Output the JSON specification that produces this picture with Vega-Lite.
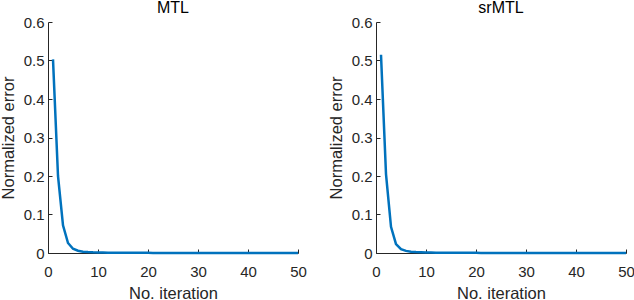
{
  "$schema": "https://vega.github.io/schema/vega-lite/v6.json",
  "padding": {"left": 0, "top": 0, "right": 0, "bottom": 0},
  "spacing": 78,
  "bounds": "flush",
  "config": {
    "view": {"stroke": null},
    "font": "Liberation Sans",
    "title": {"fontSize": 16, "fontWeight": "normal", "color": "#000000", "font": "Liberation Sans", "offset": -1, "baseline": "alphabetic"},
    "axis": {
      "domainColor": "#262626",
      "domainWidth": 1,
      "tickColor": "#262626",
      "tickSize": -4,
      "labelColor": "#262626",
      "labelFontSize": 15,
      "labelFont": "Liberation Sans",
      "labelFlush": false,
      "titleFont": "Liberation Sans",
      "titleFontSize": 16.5,
      "titleFontWeight": "normal",
      "titleColor": "#262626",
      "grid": false
    }
  },
  "datasets": {
    "mtl": [
      {"iter": 1, "err": 0.503}, {"iter": 2, "err": 0.2}, {"iter": 3, "err": 0.072}, {"iter": 4, "err": 0.026},
      {"iter": 5, "err": 0.011}, {"iter": 6, "err": 0.006}, {"iter": 7, "err": 0.0035}, {"iter": 8, "err": 0.0025},
      {"iter": 9, "err": 0.0018}, {"iter": 10, "err": 0.0014}, {"iter": 11, "err": 0.0011}, {"iter": 12, "err": 0.0009},
      {"iter": 13, "err": 0.0008}, {"iter": 14, "err": 0.0007}, {"iter": 15, "err": 0.0006}, {"iter": 16, "err": 0.0005},
      {"iter": 17, "err": 0.00045}, {"iter": 18, "err": 0.0004}, {"iter": 19, "err": 0.00036}, {"iter": 20, "err": 0.00033},
      {"iter": 21, "err": 0.0003}, {"iter": 22, "err": 0.00028}, {"iter": 23, "err": 0.00026}, {"iter": 24, "err": 0.00024},
      {"iter": 25, "err": 0.00022}, {"iter": 26, "err": 0.0002}, {"iter": 27, "err": 0.00019}, {"iter": 28, "err": 0.00018},
      {"iter": 29, "err": 0.00017}, {"iter": 30, "err": 0.00016}, {"iter": 31, "err": 0.00015}, {"iter": 32, "err": 0.00014},
      {"iter": 33, "err": 0.00013}, {"iter": 34, "err": 0.00013}, {"iter": 35, "err": 0.00012}, {"iter": 36, "err": 0.00012},
      {"iter": 37, "err": 0.00011}, {"iter": 38, "err": 0.00011}, {"iter": 39, "err": 0.0001}, {"iter": 40, "err": 0.0001},
      {"iter": 41, "err": 0.0001}, {"iter": 42, "err": 0.00009}, {"iter": 43, "err": 0.00009}, {"iter": 44, "err": 0.00009},
      {"iter": 45, "err": 0.00008}, {"iter": 46, "err": 0.00008}, {"iter": 47, "err": 0.00008}, {"iter": 48, "err": 0.00007},
      {"iter": 49, "err": 0.00007}, {"iter": 50, "err": 0.00007}
    ],
    "srmtl": [
      {"iter": 1, "err": 0.515}, {"iter": 2, "err": 0.205}, {"iter": 3, "err": 0.068}, {"iter": 4, "err": 0.023},
      {"iter": 5, "err": 0.01}, {"iter": 6, "err": 0.0055}, {"iter": 7, "err": 0.0033}, {"iter": 8, "err": 0.0023},
      {"iter": 9, "err": 0.0017}, {"iter": 10, "err": 0.0013}, {"iter": 11, "err": 0.001}, {"iter": 12, "err": 0.00085},
      {"iter": 13, "err": 0.00075}, {"iter": 14, "err": 0.00065}, {"iter": 15, "err": 0.00058}, {"iter": 16, "err": 0.0005},
      {"iter": 17, "err": 0.00045}, {"iter": 18, "err": 0.0004}, {"iter": 19, "err": 0.00036}, {"iter": 20, "err": 0.00033},
      {"iter": 21, "err": 0.0003}, {"iter": 22, "err": 0.00028}, {"iter": 23, "err": 0.00026}, {"iter": 24, "err": 0.00024},
      {"iter": 25, "err": 0.00022}, {"iter": 26, "err": 0.0002}, {"iter": 27, "err": 0.00019}, {"iter": 28, "err": 0.00018},
      {"iter": 29, "err": 0.00017}, {"iter": 30, "err": 0.00016}, {"iter": 31, "err": 0.00015}, {"iter": 32, "err": 0.00014},
      {"iter": 33, "err": 0.00013}, {"iter": 34, "err": 0.00013}, {"iter": 35, "err": 0.00012}, {"iter": 36, "err": 0.00012},
      {"iter": 37, "err": 0.00011}, {"iter": 38, "err": 0.00011}, {"iter": 39, "err": 0.0001}, {"iter": 40, "err": 0.0001},
      {"iter": 41, "err": 0.0001}, {"iter": 42, "err": 0.00009}, {"iter": 43, "err": 0.00009}, {"iter": 44, "err": 0.00009},
      {"iter": 45, "err": 0.00008}, {"iter": 46, "err": 0.00008}, {"iter": 47, "err": 0.00008}, {"iter": 48, "err": 0.00007},
      {"iter": 49, "err": 0.00007}, {"iter": 50, "err": 0.00007}
    ]
  },
  "hconcat": [
    {
      "title": "MTL",
      "width": 250,
      "height": 231,
      "data": {"name": "mtl"},
      "mark": {"type": "line", "color": "#0072BD", "strokeWidth": 2.5},
      "encoding": {
        "x": {"field": "iter", "type": "quantitative", "scale": {"domain": [0, 50], "nice": false},
              "axis": {"title": "No. iteration", "values": [0, 10, 20, 30, 40, 50], "labelPadding": 15, "titlePadding": 6}},
        "y": {"field": "err", "type": "quantitative", "scale": {"domain": [0, 0.6], "nice": false},
              "axis": {"title": "Normalized error", "values": [0, 0.1, 0.2, 0.3, 0.4, 0.5, 0.6], "format": "~g", "labelPadding": 8, "titlePadding": 6.5}}
      }
    },
    {
      "title": "srMTL",
      "width": 250,
      "height": 231,
      "data": {"name": "srmtl"},
      "mark": {"type": "line", "color": "#0072BD", "strokeWidth": 2.5},
      "encoding": {
        "x": {"field": "iter", "type": "quantitative", "scale": {"domain": [0, 50], "nice": false},
              "axis": {"title": "No. iteration", "values": [0, 10, 20, 30, 40, 50], "labelPadding": 15, "titlePadding": 6}},
        "y": {"field": "err", "type": "quantitative", "scale": {"domain": [0, 0.6], "nice": false},
              "axis": {"title": "Normalized error", "values": [0, 0.1, 0.2, 0.3, 0.4, 0.5, 0.6], "format": "~g", "labelPadding": 8, "titlePadding": 6.5}}
      }
    }
  ]
}
